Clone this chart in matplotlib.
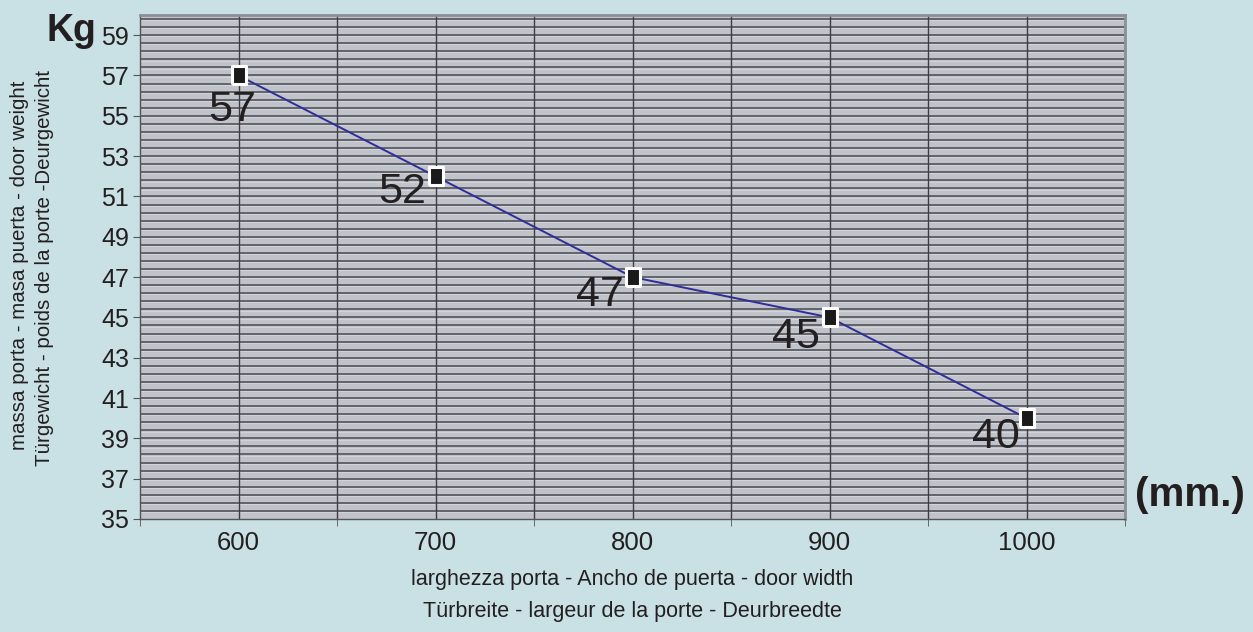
import matplotlib
matplotlib.use("Agg")
import matplotlib.pyplot as plt
import numpy as np
from matplotlib.ticker import FixedLocator

widths = [600, 700, 800, 900, 1000]
weights = [57, 52, 47, 45, 40]
label_offsets = [(-6, -33), (-33, -14), (-33, -16), (-34, -18), (-31, -17)]  # pixels

y_ticks = list(range(35, 60, 2))
x_ticks = [600, 700, 800, 900, 1000]

BG = "#C9E0E5"
PLOT_BG = "#C0C3C9"
TXT = "#231F20"
narrow = ["Liberation Sans Narrow", "Liberation Sans", "DejaVu Sans"]
arial = ["Liberation Sans", "DejaVu Sans"]

fig = plt.figure(figsize=(12.53, 6.32), dpi=100, facecolor=BG)
ax = fig.add_axes([140/1253, 1-519/632, (1125-140)/1253, (519-15)/632])
ax.set_facecolor(PLOT_BG)
ax.set_xlim(550, 1050)
ax.set_ylim(35, 60)

# grid
for v in np.arange(35.4, 60, 0.4):
    ax.axhline(v, color="#4A4A52", lw=1.1, zorder=1)
    ax.axhline(v - 0.06, color="#D6D8DC", lw=0.6, zorder=1)
for v in range(600, 1050, 50):
    ax.axvline(v, color="#3E3E44", lw=1.0, zorder=1)

rect = [(-0.78, -1), (0.78, -1), (0.78, 1), (-0.78, 1), (-0.78, -1)]
ax.plot(widths, weights, color="#2E2E9A", lw=1.4, zorder=3)
ax.plot(widths, weights, ls="none", marker=rect, ms=12.5, mfc="#1A1A1A",
        mec="white", mew=2.2, zorder=4)

for x, y, (dx, dy) in zip(widths, weights, label_offsets):
    ax.annotate(str(y), (x, y), xytext=(dx*0.72, (dy - 2)*0.72), textcoords="offset points",
                ha="center", va="center", fontsize=31, color=TXT,
                family=arial, zorder=5)

ax.yaxis.set_major_locator(FixedLocator(y_ticks))
ax.set_yticklabels([str(t) for t in y_ticks], fontsize=18, color=TXT, family=arial)
ax.xaxis.set_major_locator(FixedLocator(x_ticks))
ax.set_xticklabels([str(t) for t in x_ticks], fontsize=18.5, color=TXT, family=arial)
ax.xaxis.set_minor_locator(FixedLocator([550, 650, 750, 850, 950, 1050]))
ax.tick_params(axis="x", which="major", length=0, pad=9)
ax.tick_params(axis="x", which="minor", length=5, color="#555555", direction="out")
ax.tick_params(axis="y", length=5, color="#555555", direction="out", pad=3)

for s in ["top", "right"]:
    ax.spines[s].set_color("#8C9096")
    ax.spines[s].set_linewidth(2)
for s in ["left", "bottom"]:
    ax.spines[s].set_color("#555555")
    ax.spines[s].set_linewidth(1)

fig.text(71/1253, 1-31/632, "Kg", fontsize=27, fontweight="bold", color=TXT,
         ha="center", va="center", family=arial)
fig.text(1190/1253, 1-495/632, "(mm.)", fontsize=29, fontweight="bold", color=TXT,
         ha="center", va="center", family=arial)

fig.text(20/1253, 1-265/632, "massa porta - masa puerta - door weight", rotation=90,
         fontsize=14.8, color=TXT, ha="center", va="center", family=narrow)
fig.text(45/1253, 1-268/632, "Türgewicht - poids de la porte -Deurgewicht", rotation=90,
         fontsize=14.8, color=TXT, ha="center", va="center", family=narrow)
fig.text(632/1253, 1-580/632, "larghezza porta - Ancho de puerta - door width",
         fontsize=15.5, color=TXT, ha="center", va="center", family=narrow)
fig.text(632/1253, 1-612/632, "Türbreite - largeur de la porte - Deurbreedte",
         fontsize=15.5, color=TXT, ha="center", va="center", family=narrow)

fig.savefig("out.png", dpi=100, facecolor=BG)
